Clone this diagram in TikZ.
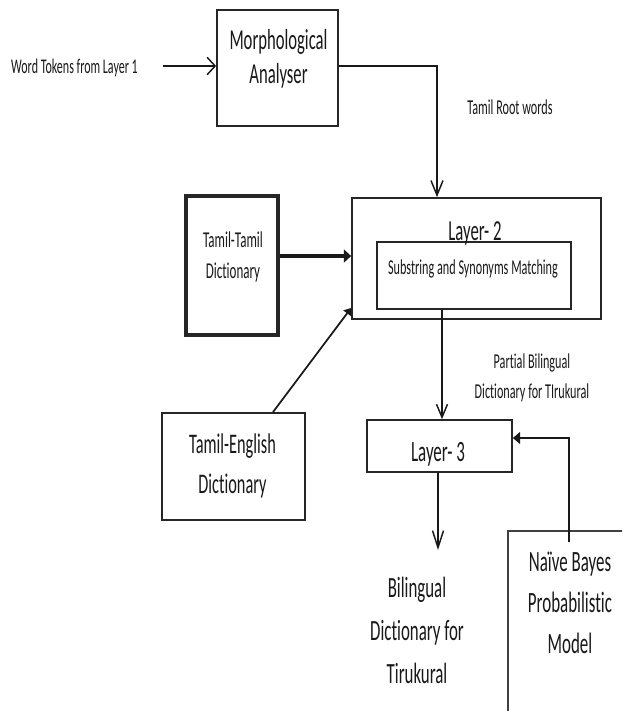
\documentclass[tikz,border=0pt]{standalone}
\usepackage{fontspec}
\setmainfont[FakeStretch=0.575, Ligatures={NoCommon}]{Carlito}
\usetikzlibrary{arrows.meta}
\newcommand\myfs[2]{\fontsize{#1}{#2}\selectfont}
\tikzset{
  box/.style={draw=black!85, line width=1.3pt, rectangle, inner sep=0pt},
  txt/.style={anchor=base, align=center, inner sep=0pt, text=black!90},
  openarr/.style={draw=black!90, line width=1.1pt, -{Straight Barb[length=#1]}},
  fillarr/.style={draw=black!90, line width=1.3pt, -{Triangle[length=5.5pt,width=9pt]}},
}
\begin{document}
\begin{tikzpicture}[x=0.75pt,y=-0.75pt]
\useasboundingbox (0,0) rectangle (622,711);
\fill[white] (0,0) rectangle (622,711);
\clip (0,0) rectangle (622,711);

% boxes
\node[box, minimum width=90.75pt, minimum height=87pt] (morph) at (277.5,68) {};
\node[box, minimum width=186.75pt, minimum height=90.75pt] (layer2) at (476.5,258.5) {};
\node[box, minimum width=145.5pt, minimum height=50.25pt] (inner) at (474,275.5) {};
\node[box, line width=3pt, minimum width=69pt, minimum height=104.25pt] (tt) at (232,265.5) {};
\node[box, minimum width=107.25pt, minimum height=80.25pt] (te) at (233.5,466.5) {};
\node[box, minimum width=108.75pt, minimum height=39pt] (layer3) at (439.5,446) {};
\node[box, draw=black!75, line width=2pt, minimum width=106.5pt, minimum height=156.75pt] (naive) at (579,635.5) {};

% texts (base = baseline of the last line)
\node[txt, font=\myfs{15.66pt}{18pt}] (words) at (74.5,73) {Word Tokens from Layer 1};
\node[txt, font=\myfs{21.7pt}{25.5pt}] (morphtxt) at (278.5,83) {Morphological\\Analyser};
\node[txt, font=\myfs{15.9pt}{18pt}] (roottxt) at (510,114) {Tamil Root words};
\node[txt, font=\myfs{21.8pt}{24pt}] (l2txt) at (475,240) {Layer- 2};
\node[txt, font=\myfs{15.9pt}{18pt}] (innertxt) at (473,274) {Substring and Synonyms Matching};
\node[txt, font=\myfs{17pt}{23.25pt}] (tttxt) at (233,278) {Tamil-Tamil\\Dictionary};
\node[txt, font=\myfs{21.3pt}{30pt}] (tetxt) at (232.5,493) {Tamil-English\\Dictionary};
\node[txt, font=\myfs{15.9pt}{22.5pt}] (partial) at (532,398) {Partial Bilingual\\Dictionary for TIrukural};
\node[txt, font=\myfs{22.1pt}{24pt}] (l3txt) at (438,461) {Layer- 3};
\node[txt, font=\myfs{22pt}{31.9pt}] (bil) at (417,683) {Bilingual\\Dictionary for\\Tirukural};
\node[txt, font=\myfs{22.1pt}{30.75pt}] (naivetxt) at (570,653) {Naïve Bayes\\Probabilistic\\Model};

% connectors
\coordinate (wtail) at (163,66);
\coordinate (rootc) at (437,66);
\coordinate (bilend) at (438,550);
\coordinate (nstart) at (569,542);

\draw[openarr=6pt, -{Straight Barb[length=6pt,width=13pt]}] (wtail) -- (wtail -| morph.west);
\draw[openarr=11pt, -{Straight Barb[length=11pt,width=9pt]}] (wtail -| morph.east) -- (rootc) -- (rootc |- layer2.north);
\draw[fillarr, line width=2.4pt, -{Triangle[length=5.5pt,width=9.75pt]}] ([yshift=7.1pt]tt.east) -- ([yshift=7.1pt]tt.east -| layer2.west);
\draw[fillarr, -{Triangle[length=5pt,width=7pt]}] ([xshift=29.6pt]te.north) -- ([yshift=-37.1pt]layer2.west);
\draw[openarr=9.75pt, -{Straight Barb[length=9.75pt,width=8.25pt]}] ([xshift=-24pt]inner.south) -- ([xshift=-24pt]inner.south |- layer3.north);
\draw[openarr=12pt, -{Straight Barb[length=12.75pt,width=8.25pt]}] (bilend |- layer3.south) -- (bilend);
\draw[fillarr] (nstart) |- ([yshift=6pt]layer3.east);
\end{tikzpicture}
\end{document}
